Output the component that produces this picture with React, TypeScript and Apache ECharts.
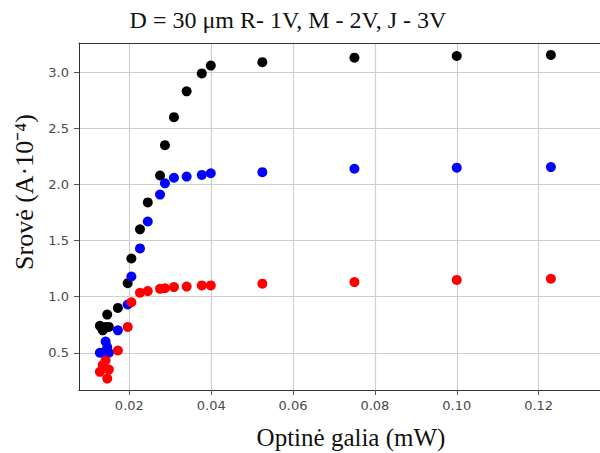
import React, { useEffect, useRef } from "react";
import * as echarts from "echarts";

const power = [0.0128, 0.0135, 0.0142, 0.0146, 0.015, 0.0172, 0.0196, 0.0205, 0.0226, 0.0245, 0.0275, 0.0287, 0.0309, 0.034, 0.0377, 0.0399, 0.0525, 0.075, 0.1, 0.123];
const current3V = [0.74, 0.70, 0.73, 0.84, 0.73, 0.90, 1.12, 1.34, 1.60, 1.84, 2.08, 2.35, 2.60, 2.83, 2.99, 3.06, 3.09, 3.13, 3.145, 3.155];
const current2V = [0.50, 0.50, 0.60, 0.55, 0.50, 0.70, 0.93, 1.18, 1.43, 1.67, 1.91, 2.01, 2.06, 2.07, 2.085, 2.10, 2.11, 2.14, 2.15, 2.155];
const current1V = [0.33, 0.39, 0.43, 0.27, 0.35, 0.52, 0.73, 0.95, 1.035, 1.05, 1.07, 1.075, 1.085, 1.09, 1.10, 1.10, 1.116, 1.13, 1.149, 1.16];
const xTicks = [0.02, 0.04, 0.06, 0.08, 0.10, 0.12];
const yTicks = [0.5, 1.0, 1.5, 2.0, 2.5, 3.0];

const titleText = "D = 30 μm R- 1V, M - 2V, J - 3V";
const xName = "Optinė galia (mW)";
const yName = "Srovė (A·10⁻⁴)";

const pairs = (ys: number[]) => power.map((x, i) => [x, ys[i]]);

export default function App() {
  const ref = useRef<HTMLDivElement>(null);
  useEffect(() => {
    if (!ref.current) return;
    const chart = echarts.init(ref.current, null, { renderer: "svg" });
    const serif = "'Liberation Serif', 'Times New Roman', serif";
    const sans = "'DejaVu Sans', sans-serif";
    const gridLine = { show: true, lineStyle: { color: "#cfcfcf", width: 1.2 } };
    chart.setOption({
      animation: false,
      backgroundColor: "#ffffff",
      grid: { left: 79, top: 43, bottom: 63, right: -16, containLabel: false },
      xAxis: [
        {
          type: "value",
          min: 0.0077,
          max: 0.135,
          position: "bottom",
          axisLine: { show: true, onZero: false, lineStyle: { color: "#333", width: 1 } },
          axisTick: { show: true, customValues: xTicks, length: 5, lineStyle: { color: "#555" } },
          axisLabel: {
            customValues: xTicks,
            formatter: (v: number) => v.toFixed(2),
            color: "#4a4a4a",
            fontFamily: sans,
            fontSize: 13,
            margin: 9,
          },
          splitLine: gridLine,
        },
        {
          type: "value",
          min: 0.0077,
          max: 0.135,
          position: "top",
          axisLine: { show: true, onZero: false, lineStyle: { color: "#333", width: 1 } },
          axisTick: { show: false },
          axisLabel: { show: false },
          splitLine: { show: false },
        },
      ],
      yAxis: {
        type: "value",
        min: 0.168,
        max: 3.261,
        axisLine: { show: true, onZero: false, lineStyle: { color: "#333", width: 1 } },
        axisTick: { show: true, customValues: yTicks, length: 5, lineStyle: { color: "#555" } },
        axisLabel: {
          customValues: yTicks,
          formatter: (v: number) => v.toFixed(1),
          color: "#4a4a4a",
          fontFamily: sans,
          fontSize: 13,
          margin: 10,
        },
        splitLine: gridLine,
      },
      graphic: [
        {
          type: "text",
          x: 288,
          y: 20,
          style: { text: titleText, font: `24px ${serif}`, fill: "#111", textAlign: "center", textVerticalAlign: "middle" },
        },
        {
          type: "text",
          x: 351,
          y: 437,
          style: { text: xName, font: `25px ${serif}`, fill: "#111", textAlign: "center", textVerticalAlign: "middle" },
        },
        {
          type: "text",
          x: 24,
          y: 192,
          rotation: Math.PI / 2,
          style: { text: yName, font: `26px ${serif}`, fill: "#111", textAlign: "center", textVerticalAlign: "middle" },
        },
      ],
      series: [
        { type: "scatter", name: "3V", data: pairs(current3V), symbolSize: 10, itemStyle: { color: "#000000", opacity: 1 } },
        { type: "scatter", name: "2V", data: pairs(current2V), symbolSize: 10, itemStyle: { color: "#0000ff", opacity: 1 } },
        { type: "scatter", name: "1V", data: pairs(current1V), symbolSize: 10, itemStyle: { color: "#ff0000", opacity: 1 } },
      ],
    });
    return () => chart.dispose();
  }, []);
  return <div ref={ref} style={{ width: 600, height: 453, position: "absolute", left: 0, top: 0 }} />;
}
